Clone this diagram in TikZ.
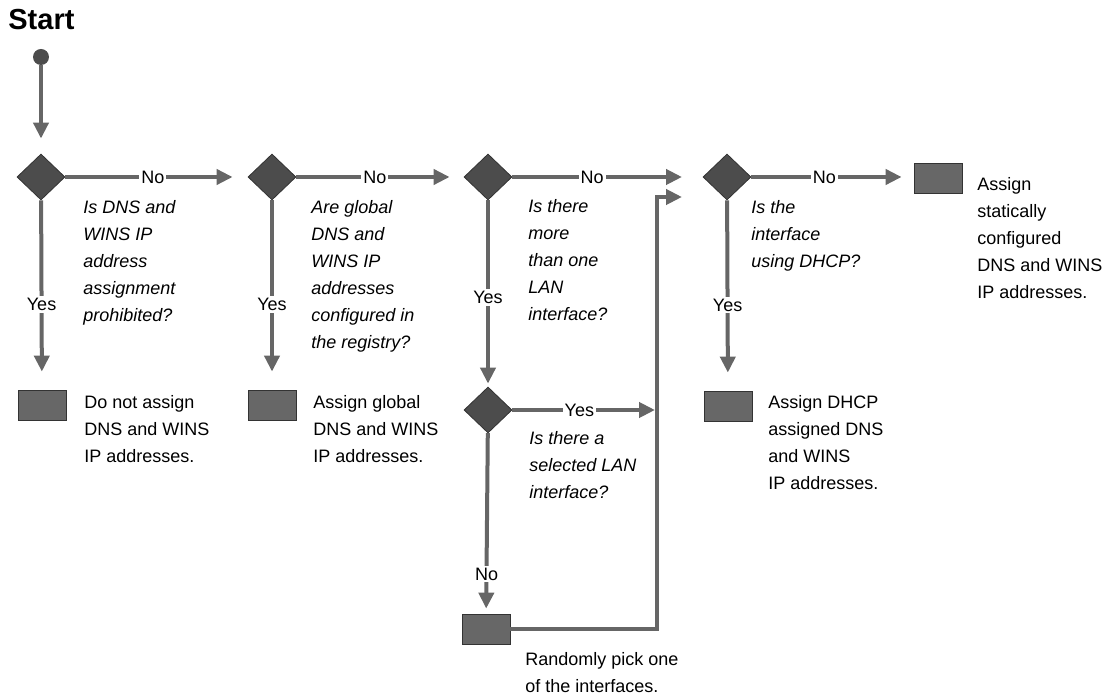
\documentclass[tikz,border=0pt]{standalone}
\usepackage{fontspec}
\setmainfont{Liberation Sans}
\usepackage{tikz}
\usetikzlibrary{arrows.meta,shapes.geometric,positioning}

\definecolor{shapegray}{gray}{0.3}
\definecolor{linegray}{gray}{0.4}

\tikzset{
  dec/.style={diamond, fill=shapegray, draw=black!80, line width=0.4pt,
    minimum width=24pt, minimum height=23pt, inner sep=0pt},
  act/.style={rectangle, fill=shapegray!85, draw=black!80, line width=0.4pt,
    minimum width=24pt, minimum height=15pt, inner sep=0pt},
  dot/.style={circle, fill=shapegray, minimum size=8pt, inner sep=0pt},
  flow/.style={draw=linegray, line width=2pt,
    -{Triangle[length=8pt,width=7.5pt]}},
  lbl/.style={fill=white, inner sep=1pt, font=\fontsize{9}{11}\selectfont},
  txt/.style={anchor=north west, inner sep=0pt, align=left,
    font=\fontsize{9}{13.5}\selectfont},
  ask/.style={txt, font=\fontsize{9}{13.5}\selectfont\itshape},
}

\begin{document}
\begin{tikzpicture}[x=0.5pt,y=-0.5pt]
\useasboundingbox (0,0) rectangle (1118,699);

\node[anchor=north west, inner sep=0pt, font=\bfseries\fontsize{14.5}{17}\selectfont] (start) at (8,9) {Start};
\node[dot] (s) at (41,57) {};

% decisions
\node[dec] (d1) at (41,177) {};
\node[dec] (d2) at (272,177) {};
\node[dec] (d3) at (488,177) {};
\node[dec] (d4) at (488,410) {};
\node[dec] (d5) at (727,177) {};

% actions
\node[act] (b1) at (42,405) {};
\node[act] (b2) at (272,405) {};
\node[act] (b3) at (486,629) {};
\node[act] (b4) at (728,406) {};
\node[act] (b5) at (938,178) {};

\coordinate (nx) at (682,177);
\coordinate (jt) at (657,197);
\coordinate (jn) at (682,197);
\coordinate (m) at (655,410);

  \draw[flow, shorten >=7.5pt] (s) -- (d1);
  \draw[flow, shorten >=7.5pt] (d1) -- (d2) node[lbl, pos=0.48] {No};
  \draw[flow, shorten >=7pt] (d2) -- (d3) node[lbl, pos=0.47] {No};
  \draw[flow] (d3.east) -- (nx) node[lbl, pos=0.47] {No};
  \draw[flow, shorten >=6pt] (d5.east) -- (d5.east -| b5.west) node[lbl, pos=0.45] {No};

  \draw[flow, shorten >=9pt] (d1) -- (b1) node[lbl, pos=0.55] {Yes};
  \draw[flow, shorten >=9pt] (d2) -- (b2) node[lbl, pos=0.55] {Yes};
  \draw[flow, shorten >=1.5pt] (d3) -- (d4) node[lbl, pos=0.52] {Yes};
  \draw[flow, shorten >=9pt] (d5) -- (b4) node[lbl, pos=0.55] {Yes};
  \draw[flow, shorten >=2.5pt] (d4) -- (b3) node[lbl, pos=0.78] {No};
  \draw[flow] (d4.east) -- (m) node[lbl, pos=0.47] {Yes};
  \draw[flow] (b3.east) -| (jt) -- (jn);

% texts
\node[ask] (q1) at (83,200) {Is DNS and\\WINS IP\\address\\assignment\\prohibited?};
\node[ask] (q2) at (311,200) {Are global\\DNS and\\WINS IP\\addresses\\configured in\\the registry?};
\node[ask] (q3) at (528,199) {Is there\\more\\than one\\LAN\\interface?};
\node[ask] (q4) at (529,431) {Is there a\\selected LAN\\interface?};
\node[ask] (q5) at (751,200) {Is the\\interface\\using DHCP?};

\node[txt] (t1) at (84,395) {Do not assign\\DNS and WINS\\IP addresses.};
\node[txt] (t2) at (313,395) {Assign global\\DNS and WINS\\IP addresses.};
\node[txt] (t3) at (525,652) {Randomly pick one\\of the interfaces.};
\node[txt] (t4) at (768,395) {Assign DHCP\\assigned DNS\\and WINS\\IP addresses.};
\node[txt] (t5) at (977,177) {Assign\\statically\\configured\\DNS and WINS\\IP addresses.};
\end{tikzpicture}
\end{document}
